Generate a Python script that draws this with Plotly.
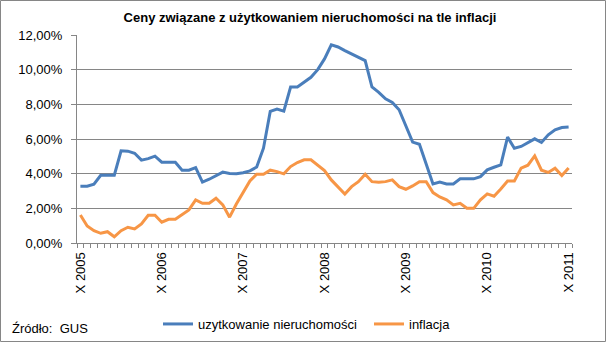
import plotly.graph_objects as go

# ---- data ----
months = list(range(73))  # monthly, X 2005 .. X 2011
tick_pos = [0, 12, 24, 36, 48, 60, 72]
tick_labels = ["X 2005", "X 2006", "X 2007", "X 2008", "X 2009", "X 2010", "X 2011"]
y_ticks = [0, 2, 4, 6, 8, 10, 12]
y_labels = ["0,00%", "2,00%", "4,00%", "6,00%", "8,00%", "10,00%", "12,00%"]

uzytkowanie = [
    3.28, 3.28, 3.39, 3.91, 3.91, 3.91, 5.32, 5.30, 5.18, 4.78, 4.87, 5.01,
    4.66, 4.66, 4.66, 4.20, 4.20, 4.35, 3.51, 3.68, 3.91, 4.09, 4.01, 4.00,
    4.05, 4.16, 4.38, 5.47, 7.59, 7.73, 7.61, 9.00, 9.00, 9.29, 9.56, 10.00,
    10.62, 11.43, 11.31, 11.10, 10.91, 10.68, 10.52, 9.00, 8.69, 8.32, 8.11, 7.69,
    6.72, 5.82, 5.70, 4.55, 3.41, 3.51, 3.41, 3.41, 3.70, 3.70, 3.70, 3.83,
    4.22, 4.37, 4.51, 6.11, 5.47, 5.57, 5.80, 6.01, 5.80, 6.24, 6.53, 6.66,
    6.69,
]
inflacja = [
    1.62, 0.98, 0.71, 0.56, 0.65, 0.36, 0.71, 0.91, 0.81, 1.10, 1.60, 1.60,
    1.20, 1.37, 1.37, 1.62, 1.91, 2.49, 2.29, 2.29, 2.58, 2.20, 1.49, 2.25,
    2.93, 3.58, 3.97, 3.97, 4.20, 4.12, 3.99, 4.41, 4.64, 4.80, 4.80, 4.51,
    4.18, 3.64, 3.25, 2.83, 3.25, 3.54, 3.97, 3.54, 3.50, 3.54, 3.64, 3.25,
    3.10, 3.29, 3.54, 3.54, 2.91, 2.66, 2.49, 2.20, 2.29, 2.00, 2.00, 2.49,
    2.83, 2.70, 3.12, 3.58, 3.58, 4.32, 4.49, 5.03, 4.20, 4.07, 4.32, 3.89,
    4.33,
]

series_names = ["uzytkowanie nieruchomości", "inflacja"]
colors = ["#4A7EBB", "#F79646"]
title = "Ceny związane z użytkowaniem nieruchomości na tle inflacji"
source = "Źródło:\u00a0\u00a0GUS"

FONT = "Liberation Sans, Arial, sans-serif"
GRID = "#868686"

W, H = 606, 342
L, R, T, B = 77, 34, 35, 99
pw, ph = W - L - R, H - T - B


def px_x(px):
    return (px - L) / pw


def px_y(py):
    return (H - B - py) / ph


fig = go.Figure()
for name, vals, col in zip(series_names, [uzytkowanie, inflacja], colors):
    fig.add_trace(go.Scatter(
        x=months, y=vals, mode="lines", name=name,
        line=dict(color=col, width=3),
    ))

fig.update_layout(
    width=W, height=H,
    margin=dict(l=L, r=R, t=T, b=B, pad=0, autoexpand=False),
    paper_bgcolor="white", plot_bgcolor="white",
    font=dict(family=FONT, size=13, color="black"),
    title=dict(
        text="<b>" + title + "</b>",
        x=310 / W, xanchor="center", xref="container",
        y=1 - 17 / H, yanchor="middle", yref="container",
        font=dict(family=FONT, size=13, color="black"),
    ),
    xaxis=dict(
        range=[-0.5, 72.5], automargin=False,
        tickmode="array", tickvals=tick_pos, ticktext=tick_labels,
        tickangle=-90, ticks="", showgrid=False, zeroline=False,
        showline=True, linecolor=GRID, linewidth=1,
        ticklabelstandoff=3,
        minor=dict(ticks="outside", tick0=-0.5, dtick=1, ticklen=4,
                   tickcolor=GRID, showgrid=False),
        tickfont=dict(size=13),
    ),
    yaxis=dict(
        range=[0, 12], automargin=False,
        tickmode="array", tickvals=y_ticks, ticktext=y_labels,
        ticks="outside", ticklen=5, tickcolor=GRID,
        showline=True, linecolor=GRID, linewidth=1,
        showgrid=True, gridcolor=GRID, gridwidth=1,
        zeroline=False, ticklabelstandoff=6,
        tickfont=dict(size=13),
    ),
    legend=dict(
        orientation="h", x=px_x(158), xanchor="left",
        y=px_y(324), yanchor="middle",
        font=dict(size=13), entrywidth=166, entrywidthmode="pixels",
        bgcolor="rgba(0,0,0,0)",
    ),
    annotations=[dict(
        text=source, xref="paper", yref="paper",
        x=px_x(10), y=px_y(328), xanchor="left", yanchor="middle",
        showarrow=False, font=dict(size=13, family=FONT),
    )],
    shapes=[dict(
        type="rect", xref="paper", yref="paper",
        x0=px_x(0.5), x1=px_x(605.5), y0=px_y(341.5), y1=px_y(0.5),
        line=dict(color=GRID, width=1), fillcolor="rgba(0,0,0,0)",
        layer="below",
    )],
)

fig.write_html("out.html")
